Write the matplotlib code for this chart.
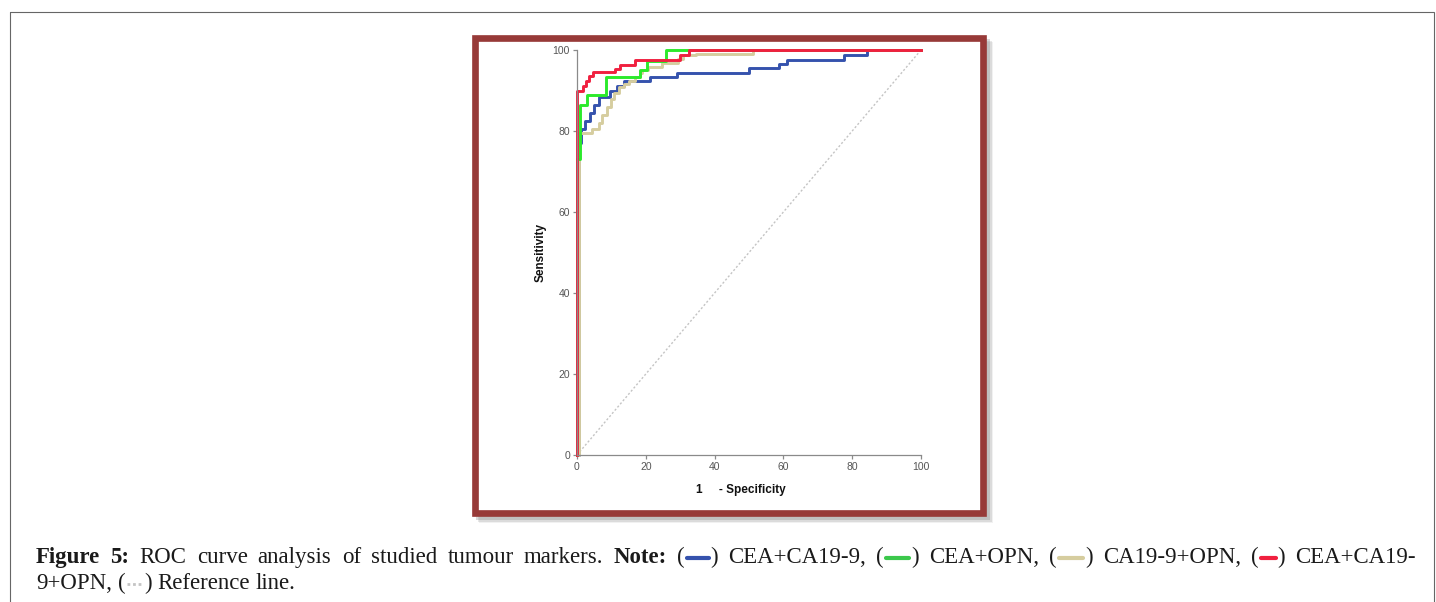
import matplotlib
matplotlib.use("Agg")
import matplotlib.pyplot as plt
from matplotlib.patches import Rectangle

# ROC points (1 - specificity, sensitivity)
fpr_blue = [0, 0.5, 1.2, 2.4, 3.8, 4.9, 6.4, 9.5, 11.7, 13.6, 21.2, 29, 50, 58.8, 61.1, 77.6, 84.2, 100]
tpr_blue = [0, 77, 80.5, 82.5, 84.5, 86.5, 88.3, 90, 91.2, 92.3, 93.4, 94.4, 95.5, 96.6, 97.6, 98.7, 100, 100]

fpr_green = [0, 0, 0.9, 2.8, 8.3, 18.3, 20.3, 25.8, 100]
tpr_green = [0, 73, 86.4, 88.9, 93.4, 95.1, 97.3, 100, 100]

fpr_tan = [0, 0.7, 4.5, 6.4, 7.4, 8.6, 9.8, 10.8, 12.2, 13.7, 15.2, 16.8, 18.3, 19.0, 20.7, 24.6, 29.4, 30.9, 34.5, 51.3, 100]
tpr_tan = [0, 79.5, 80.5, 82, 84, 86, 87.8, 89.5, 90.8, 91.6, 92.4, 93.3, 94.2, 95.1, 95.9, 96.7, 97.9, 98.7, 99.1, 100, 100]

fpr_red = [0, 0, 1.6, 2.7, 3.6, 4.7, 11, 12.5, 17, 30, 32.5, 100]
tpr_red = [0, 89.8, 91, 92.4, 93.5, 94.5, 95.4, 96.4, 97.6, 98.7, 100, 100]

ref_line = [0, 100]
ticks = [0, 20, 40, 60, 80, 100]

c_blue = '#3552ad'
c_green = '#2bea2b'
c_tan = '#d6cd9f'
c_red = '#f0203f'
c_ref = '#c4c4c4'

W, H = 1436, 602
fig = plt.figure(figsize=(W / 100, H / 100), dpi=100)

# background layer in pixel coords (frames + caption)
ov = fig.add_axes([0, 0, 1, 1])
ov.set_xlim(0, W)
ov.set_ylim(H, 0)
ov.axis('off')

ov.add_patch(Rectangle((10, 12), 1424, 600, fill=False, ec='#666666', lw=0.8))
# shadow of the brown frame
for off, a in [(7, 0.10), (5.5, 0.18), (4, 0.28)]:
    ov.add_patch(Rectangle((472 + off, 35 + off), 514, 481, fc='#7a7a7a', ec='none', alpha=a))
ov.add_patch(Rectangle((472, 35), 514, 481, fc='white', ec='none'))
ov.add_patch(Rectangle((475.3, 38.3), 507.4, 474.4, fill=False, ec='#973a38', lw=4.8))

# the plot
ax = fig.add_axes([577 / W, 1 - 455 / H, 344 / W, 405 / H])
ax.patch.set_alpha(0)
ax.plot(ref_line, ref_line, color=c_ref, lw=1.0, ls=(0, (1.5, 1.5)), clip_on=False)
ax.plot(fpr_blue, tpr_blue, drawstyle='steps-post', color=c_blue, lw=2.1, clip_on=False)
ax.plot(fpr_tan, tpr_tan, drawstyle='steps-post', color=c_tan, lw=2.1, clip_on=False)
ax.plot(fpr_green, tpr_green, drawstyle='steps-post', color=c_green, lw=2.1, clip_on=False)
ax.plot(fpr_red, tpr_red, drawstyle='steps-post', color=c_red, lw=2.1, clip_on=False)
ax.set_xlim(0, 100)
ax.set_ylim(0, 100)
ax.set_xticks(ticks)
ax.set_yticks(ticks)
for s in ['top', 'right']:
    ax.spines[s].set_visible(False)
for s in ['left', 'bottom']:
    ax.spines[s].set_color('#8a8a8a')
    ax.spines[s].set_linewidth(0.9)
ax.tick_params(direction='out', length=3, width=0.9, color='#8a8a8a', labelsize=7.5, labelcolor='#555555', pad=2)
for lab in ax.get_xticklabels() + ax.get_yticklabels():
    lab.set_family('Liberation Sans')

ov.text(541, 252, 'Sensitivity', rotation=90, ha='center', va='center', fontsize=8.5,
        fontweight='bold', family='Liberation Sans', color='#111111')
ov.text(741, 490, '1     - Specificity', ha='center', va='center', fontsize=8.5,
        fontweight='bold', family='Liberation Sans', color='#111111')

# caption, first line justified
cap_fs = 16.5
serif = 'Liberation Serif'
fig.canvas.draw()
rend = fig.canvas.get_renderer()


def text_w(s, bold):
    t = ov.text(0, 0, s, fontsize=cap_fs, family=serif, fontweight='bold' if bold else 'normal')
    w = t.get_window_extent(rend).width
    t.remove()
    return w


def part_w(p):
    if p[0] == 't':
        return text_w(p[1], p[2])
    return p[2] + 4


def draw_part(p, x, y):
    if p[0] == 't':
        ov.text(x, y, p[1], fontsize=cap_fs, family=serif, va='baseline', color='#1a1a1a',
                fontweight='bold' if p[2] else 'normal')
    else:
        ls = (0, (1, 1)) if p[3] == 'dot' else '-'
        ov.plot([x + 2, x + 2 + p[2]], [y - 5, y - 5], color=p[1], lw=3 if ls == '-' else 2,
                ls=ls, solid_capstyle='round')
    return x + part_w(p)


def sw(color, w, style='solid'):
    return ('s', color, w, style)


def tx(s, bold=False):
    return ('t', s, bold)


line1 = [[tx('Figure', True)], [tx('5:', True)], [tx('ROC')], [tx('curve')], [tx('analysis')],
         [tx('of')], [tx('studied')], [tx('tumour')], [tx('markers.')], [tx('Note:', True)],
         [tx('('), sw(c_blue, 22), tx(')')], [tx('CEA+CA19-9,')],
         [tx('('), sw('#3cc84c', 23), tx(')')], [tx('CEA+OPN,')],
         [tx('('), sw(c_tan, 24), tx(')')], [tx('CA19-9+OPN,')],
         [tx('('), sw(c_red, 15), tx(')')], [tx('CEA+CA19-')]]

x0, x1, y1 = 36, 1416, 563
widths = [sum(part_w(p) for p in g) for g in line1]
gap = (x1 - x0 - sum(widths)) / (len(line1) - 1)
x = x0
for g, gw in zip(line1, widths):
    xx = x
    for p in g:
        xx = draw_part(p, xx, y1)
    x += gw + gap

space = text_w('a b', False) - text_w('ab', False)
x = 36
for p in [tx('9+OPN,'), None, tx('('), sw(c_ref, 15, 'dot'), tx(')'), None, tx('Reference'), None, tx('line.')]:
    if p is None:
        x += space
    else:
        x = draw_part(p, x, 589)

fig.savefig('out.png', dpi=100)
